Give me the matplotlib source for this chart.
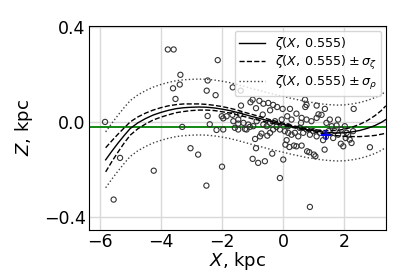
import numpy as np
import matplotlib
matplotlib.use("Agg")
import matplotlib.pyplot as plt

# ---- model curve zeta(X, 0.555) and its uncertainties ----
x_model = [-5.8, -5.6, -5.4, -5.2, -5.0, -4.75, -4.5, -4.25, -4.0, -3.75,
           -3.5, -3.25, -3.0, -2.75, -2.5, -2.25, -2.0, -1.75, -1.5, -1.25,
           -1.0, -0.75, -0.5, -0.25, 0.0, 0.25, 0.5, 0.75, 1.0, 1.25,
           1.5, 1.75, 2.0, 2.25, 2.5, 2.75, 3.0, 3.2, 3.35]
zeta = [-0.160, -0.124, -0.090, -0.058, -0.028, -0.004, 0.014, 0.029, 0.040, 0.049,
        0.056, 0.060, 0.062, 0.063, 0.062, 0.059, 0.054, 0.048, 0.040, 0.031,
        0.022, 0.014, 0.005, -0.003, -0.010, -0.018, -0.025, -0.032, -0.037, -0.042,
        -0.045, -0.047, -0.046, -0.042, -0.036, -0.027, -0.015, -0.002, 0.010]
sigma_zeta = [0.051, 0.044, 0.038, 0.032, 0.028, 0.025, 0.023, 0.021, 0.020, 0.019,
              0.017, 0.016, 0.014, 0.013, 0.012, 0.011, 0.011, 0.010, 0.010, 0.009,
              0.009, 0.008, 0.007, 0.006, 0.005, 0.004, 0.004, 0.004, 0.005, 0.006,
              0.008, 0.011, 0.015, 0.020, 0.026, 0.033, 0.042, 0.050, 0.058]
sigma_rho = 0.118

z_sun = -0.021          # green horizontal line
x_mark, z_mark = 1.39, -0.054   # blue cross

# ---- objects (X, Z in kpc) ----
x_obj = [-5.82, -5.54, -5.33, -4.23, -3.77, -3.58, -3.36, -3.60, -3.38, -3.52,
         -3.30, -3.03, -2.78, -2.14, -2.47, -2.50, -2.21, -2.47, -2.40, -2.18,
         -2.01, -2.00, -2.51, -1.66, -1.47, -1.47, -1.20, -0.89, 0.00,
         -1.65, -1.39, -1.00, -0.78, -1.07, -1.38, -0.89, -0.65, -0.49, -0.33,
         -0.20, -0.02, -0.43, -0.67, -0.05, 0.13, 0.27, 0.22, 0.43, 0.58,
         0.71, 0.76, 0.72, 1.09, 1.36, 1.15, 1.25, 1.09, 0.76, 0.92,
         2.30, 2.01, 2.07, 2.04, 1.88, 1.96, 2.83, 1.48, 1.39, 1.30,
         1.35, 1.00, 1.05, 0.85, 0.78, 0.60, 0.43, 0.35, 0.11, 0.07,
         0.20, -0.11, 0.87, -0.82, -0.60, -0.36, -1.00, -0.92, -0.76, -0.71,
         -0.52, -0.43, -0.33, -0.22, -0.11, 0.05, 0.16, 0.27, 0.38, 0.49,
         0.65, 0.76, 0.87, 0.98, 1.09, 1.20, 1.58, 1.68, 1.63, 1.79,
         1.90, 2.12, 2.17, 2.23, 2.28, -1.96, -1.96, -1.85, -1.63, -1.47,
         -1.30, -1.14, -0.98, -1.25, -1.09, -1.58, -0.65, -0.54, -0.87, -1.41,
         -0.43, -0.27, 0.54, 0.16, 0.60, 1.41, 1.52, 1.74, 1.79]
z_obj = [0.000, -0.328, -0.152, -0.206, 0.306, 0.306, 0.199, 0.142, 0.158, 0.097,
         -0.021, -0.111, -0.138, 0.261, 0.175, 0.132, 0.113, 0.025, -0.010, -0.034,
         0.024, -0.189, -0.269, 0.030, -0.007, -0.032, -0.032, -0.111, -0.159,
         0.146, 0.132, 0.094, 0.089, 0.083, 0.069, 0.058, 0.077, 0.080, 0.072,
         0.063, 0.055, 0.049, 0.031, 0.010, 0.024, 0.010, 0.055, 0.035, -0.004,
         0.094, 0.072, 0.063, 0.069, 0.055, 0.032, 0.030, 0.017, 0.010, 0.003,
         0.055, -0.018, -0.046, -0.068, -0.092, -0.103, -0.107, -0.039, -0.063, -0.077,
         -0.117, -0.138, -0.145, -0.128, -0.124, -0.100, -0.103, -0.100, -0.077, -0.096,
         -0.106, -0.237, -0.359, -0.173, -0.166, -0.134, -0.156, -0.072, -0.061, -0.049,
         -0.058, -0.046, -0.032, -0.021, -0.032, -0.039, -0.046, -0.054, -0.046, -0.061,
         -0.046, -0.032, -0.054, -0.039, -0.061, -0.046, -0.018, -0.039, -0.068, -0.054,
         -0.032, -0.054, -0.075, -0.089, -0.039, 0.015, -0.032, 0.024, 0.003, 0.010,
         -0.004, -0.011, -0.018, -0.030, -0.021, -0.025, -0.011, -0.018, 0.003, 0.031,
         -0.004, 0.003, -0.025, -0.018, 0.017, -0.004, 0.010, -0.015, 0.010]

xm = np.array(x_model)
zm = np.array(zeta)
sz = np.array(sigma_zeta)

fig = plt.figure(figsize=(4.07, 2.80), dpi=100)
ax = fig.add_axes([0.219, 0.179, 0.729, 0.728])

ax.grid(True, color="0.85", linewidth=1.0, zorder=0)
ax.axhline(z_sun, color="green", linewidth=1.3, zorder=2)

ax.scatter(x_obj, z_obj, s=14, facecolors="none", edgecolors="0.2",
           linewidths=0.8, zorder=3)

ax.plot(xm, zm, "k-", linewidth=1.0, label=r"$\zeta(X,\,0.555)$", zorder=4)
ax.plot(xm, zm + sz, "k--", linewidth=1.0,
        label=r"$\zeta(X,\,0.555) \pm \sigma_\zeta$", zorder=4)
ax.plot(xm, zm - sz, "k--", linewidth=1.0, zorder=4)
ax.plot(xm, zm + sigma_rho, color="0.25", linestyle=":", linewidth=1.0,
        label=r"$\zeta(X,\,0.555) \pm \sigma_\rho$", zorder=4)
ax.plot(xm, zm - sigma_rho, color="0.25", linestyle=":", linewidth=1.0, zorder=4)

ax.plot(x_mark, z_mark, "+", color="blue", markersize=7, mew=1.5, zorder=5)

ax.set_xlim(-6.34, 3.35)
ax.set_ylim(-0.456, 0.405)
ax.set_xticks([-6, -4, -2, 0, 2])
ax.set_yticks([-0.4, 0.0, 0.4])
ax.tick_params(labelsize=12.5, length=0, pad=2.5)
ax.set_xlabel(r"$X$, kpc", fontsize=13, labelpad=-1)
ax.set_ylabel(r"$Z$, kpc", fontsize=13, labelpad=6)

ax.legend(loc="upper right", fontsize=9.2, handlelength=2.0,
          labelspacing=0.15, borderpad=0.35, borderaxespad=0.35)

fig.savefig("out.png", dpi=100)
